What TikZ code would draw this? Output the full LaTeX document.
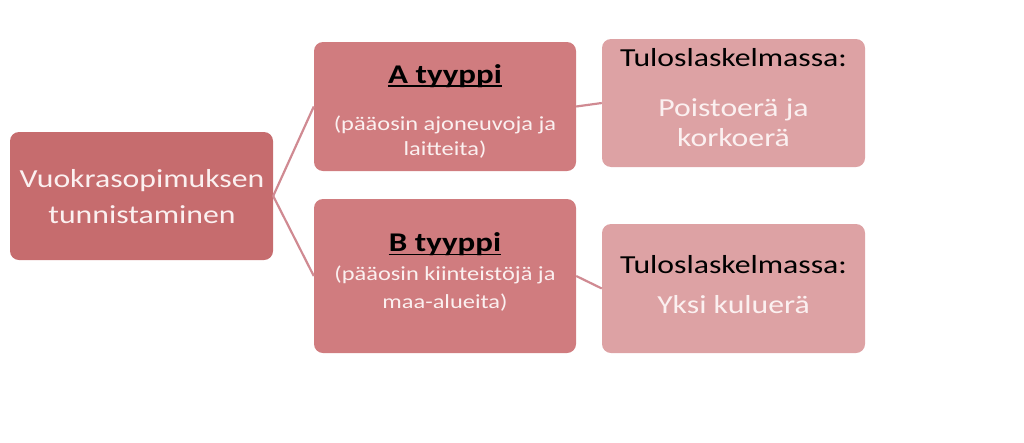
\documentclass[tikz,border=0pt]{standalone}
\usepackage{fontspec}
\setmainfont{Carlito}[FakeStretch=1.22]
\definecolor{rootc}{HTML}{C66C6E}
\definecolor{midc}{HTML}{D07C7F}
\definecolor{resc}{HTML}{DDA2A4}
\definecolor{linec}{HTML}{D08A92}
\definecolor{txtw}{HTML}{FBF0F0}
\begin{document}
\begin{tikzpicture}[x=1pt,y=-1pt,
  box/.style={rounded corners=9pt, inner sep=0pt},
  big/.style={inner sep=0pt, anchor=base, font=\fontsize{26}{30}\selectfont},
  head/.style={inner sep=0pt, anchor=base, text=black, font=\fontsize{27}{30}\selectfont\bfseries},
  small/.style={inner sep=0pt, anchor=base, text=txtw, font=\fontsize{20}{24}\selectfont},
  conn/.style={draw=linec, line width=2.2pt}]
\useasboundingbox (0,0) rectangle (1024,442);
% boxes
\node[box, fill=rootc, minimum width=263pt, minimum height=128pt] (root) at (141.5,196) {};
\node[box, fill=midc, minimum width=262pt, minimum height=129pt] (a) at (445,106.5) {};
\node[box, fill=midc, minimum width=262pt, minimum height=154pt] (b) at (445,276) {};
\node[box, fill=resc, minimum width=263pt, minimum height=128pt] (ra) at (733.5,103) {};
\node[box, fill=resc, minimum width=263pt, minimum height=129pt] (rb) at (733.5,288.5) {};
% connectors
\draw[conn] (root.east) -- (a.west);
\draw[conn] (root.east) -- (b.west);
\draw[conn] (a.east) -- (ra.west);
\draw[conn] (b.east) -- (rb.west);
% texts
\node[big, text=txtw] (root1) at (142,187) {Vuokrasopimuksen};
\node[big, text=txtw] (root2) at (142,223) {tunnistaminen};
\node[head] (at) at (445,83) {A tyyppi};
\draw[black, line width=1.8pt] ([yshift=-3pt]at.base west) -- ([yshift=-3pt]at.base east);
\node[small] (a1) at (445,130) {(pääosin ajoneuvoja ja};
\node[small] (a2) at (445,155) {laitteita)};
\node[head] (bt) at (445,251.5) {B tyyppi};
\draw[black, line width=1.8pt] ([yshift=-3pt]bt.base west) -- ([yshift=-3pt]bt.base east);
\node[small] (b1) at (445,280.5) {(pääosin kiinteistöjä ja};
\node[small] (b2) at (445,308) {maa-alueita)};
\node[big, text=black] (ra0) at (733.5,66.7) {Tuloslaskelmassa:};
\node[big, text=txtw] (ra1) at (733.5,116.7) {Poistoerä ja};
\node[big, text=txtw] (ra2) at (733.5,146.7) {korkoerä};
\node[big, text=black] (rb0) at (733.5,273) {Tuloslaskelmassa:};
\node[big, text=txtw] (rb1) at (733.5,313) {Yksi kuluerä};
\end{tikzpicture}
\end{document}
